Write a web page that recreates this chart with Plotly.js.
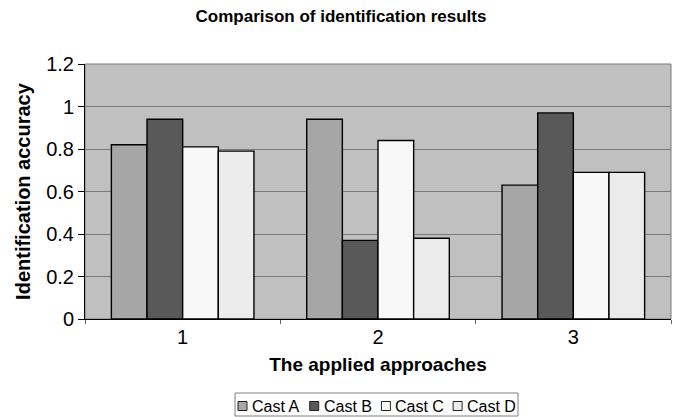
<!DOCTYPE html>
<html><head><meta charset="utf-8">
<script src="https://cdn.plot.ly/plotly-3.0.1.min.js"></script>
<style>html,body{margin:0;padding:0;background:#fff}#chart{width:682px;height:417px}</style>
</head><body><div id="chart"></div>
<script>
const categories = ["1", "2", "3"];
const seriesNames = ["Cast A", "Cast B", "Cast C", "Cast D"];
const castA = [0.82, 0.94, 0.63];
const castB = [0.94, 0.37, 0.97];
const castC = [0.81, 0.84, 0.69];
const castD = [0.79, 0.38, 0.69];
const yTicks = [0, 0.2, 0.4, 0.6, 0.8, 1, 1.2];
const yTickLabels = ["0", "0.2", "0.4", "0.6", "0.8", "1", "1.2"];

const colors = ["#a6a6a6", "#595959", "#f8f8f8", "#ececec"];
const values = [castA, castB, castC, castD];
const traces = values.map((v, i) => ({
  type: "bar", x: categories, y: v, name: seriesNames[i],
  marker: {color: colors[i], line: {color: "#000", width: 1.4}},
  hoverinfo: "none"
}));

const W = 682, H = 417;
const M = {l: 85, r: 11, t: 64, b: 98};
const pw = W - M.l - M.r, ph = H - M.t - M.b;
const px = x => (x - M.l) / pw;          // pixel -> paper x
const py = y => (H - M.b - y) / ph;      // pixel -> paper y

// custom compact legend (as in the reference)
const legendLeft = 235, legendRight = 518, legendTop = 393, legendBottom = 416;
const itemStart = 238, itemPitch = 71.7, sq = 9, legendMid = 406;
const shapes = [
  {type: "rect", xref: "paper", yref: "paper", x0: 0, x1: 1, y0: 0, y1: 1, line: {color: "#7a7a7a", width: 1}, layer: "below"},
  {type: "rect", xref: "paper", yref: "paper", x0: px(legendLeft), x1: px(legendRight), y0: py(legendBottom), y1: py(legendTop), line: {color: "#808080", width: 1}, fillcolor: "#fff"}
];
const annotations = [];
seriesNames.forEach((name, i) => {
  const x0 = itemStart + itemPitch * i;
  shapes.push({type: "rect", xref: "paper", yref: "paper", x0: px(x0), x1: px(x0 + sq), y0: py(legendMid + sq / 2), y1: py(legendMid - sq / 2),
    line: {color: "#222", width: 1}, fillcolor: colors[i]});
  annotations.push({xref: "paper", yref: "paper", x: px(x0 + sq + 3), y: py(legendMid), xanchor: "left", yanchor: "middle",
    text: name, showarrow: false, font: {family: "Liberation Sans, Arial, sans-serif", size: 16, color: "#000"}});
});

const font = "Liberation Sans, Arial, sans-serif";
const layout = {
  width: W, height: H,
  margin: {l: M.l, r: M.r, t: M.t, b: M.b, autoexpand: false},
  paper_bgcolor: "#fff", plot_bgcolor: "#c0c0c0",
  font: {family: font, color: "#000", size: 20},
  title: {text: "<b>Comparison of identification results</b>", font: {family: font, size: 17, color: "#000"}, x: 0.5, xanchor: "center", y: 0.962, yanchor: "middle"},
  barmode: "group", bargap: 0.27, bargroupgap: 0,
  showlegend: false,
  xaxis: {type: "category", showgrid: false, showline: true, linecolor: "#000", linewidth: 1,
    ticks: "outside", ticklen: 4, tickcolor: "#606060", tickson: "boundaries",
    tickfont: {family: font, size: 20}, zeroline: false,
    title: {text: "<b>The applied approaches</b>", font: {family: font, size: 19}, standoff: 10}},
  yaxis: {range: [0, 1.2], tickvals: yTicks, ticktext: yTickLabels, showgrid: true, gridcolor: "#7a7a7a", gridwidth: 1,
    showline: true, linecolor: "#000", linewidth: 1, ticks: "outside", ticklen: 6, tickcolor: "#000",
    tickfont: {family: font, size: 20}, zeroline: false,
    title: {text: "<b>Identification accuracy</b>", font: {family: font, size: 20}, standoff: 10}},
  shapes: shapes,
  annotations: annotations
};
Plotly.newPlot("chart", traces, layout, {displayModeBar: false, staticPlot: true});
</script></body></html>
